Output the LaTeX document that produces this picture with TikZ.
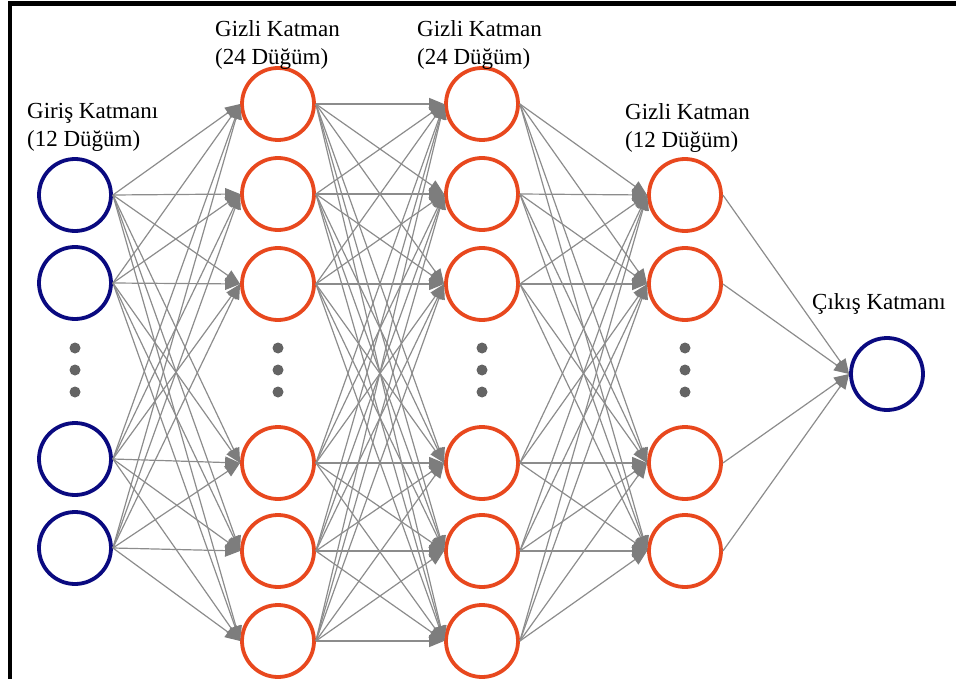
\documentclass[tikz,border=0pt]{standalone}
\usepackage{fontspec}
\setmainfont{Liberation Serif}
\usetikzlibrary{arrows.meta}
\definecolor{navyc}{RGB}{10,10,128}
\definecolor{orangec}{RGB}{232,72,30}
\definecolor{edgec}{RGB}{140,140,140}
\definecolor{tipc}{RGB}{125,125,125}
\definecolor{dotc}{RGB}{100,100,100}
\tikzset{
  inneuron/.style={circle, draw=navyc, line width=3.8pt, minimum size=72pt, inner sep=0pt},
  hidneuron/.style={circle, draw=orangec, line width=3.8pt, minimum size=72pt, inner sep=0pt},
  conn/.style={draw=edgec, line width=1.2pt, -{Triangle[length=15pt,width=12pt,fill=tipc,color=tipc]}},
  layerlabel/.style={anchor=north west, inner sep=0pt, align=left, font=\fontsize{23}{28}\selectfont},
  vdot/.style={circle, fill=dotc, inner sep=0pt, minimum size=11pt},
}
\begin{document}
\begin{tikzpicture}[x=1pt,y=-1pt]
\useasboundingbox (0,0) rectangle (956,679);
% frame (top and left edges)
\draw[line width=4.5pt, black, line cap=rect] (10,679) -- (10,3.5) -- (956,3.5);

% input layer
\foreach \i/\y in {1/195,2/283,3/459,4/548}
  \node[inneuron] (i\i) at (75,\y) {};
% hidden layer 1
\foreach \i/\y in {1/104,2/194,3/284,4/463,5/551,6/641}
  \node[hidneuron] (a\i) at (278,\y) {};
% hidden layer 2
\foreach \i/\y in {1/104,2/194,3/284,4/463,5/551,6/641}
  \node[hidneuron] (b\i) at (482,\y) {};
% hidden layer 3
\foreach \i/\y in {1/195,2/284,3/463,4/551}
  \node[hidneuron] (c\i) at (685,\y) {};
% output
\node[inneuron] (o) at (887,374) {};

% vertical dots
\foreach \x/\n in {75/p,278/q,482/r,685/s}{
  \node[vdot] (\n1) at (\x,348) {};
  \node[vdot] (\n2) at (\x,370) {};
  \node[vdot] (\n3) at (\x,392) {};
}

% connections
\foreach \s in {1,...,4}
  \foreach \t in {1,...,6}
    \draw[conn] (i\s.east) -- (a\t.west);
\foreach \s in {1,...,6}
  \foreach \t in {1,...,6}
    \draw[conn] (a\s.east) -- (b\t.west);
\foreach \s in {1,...,6}
  \foreach \t in {1,...,4}
    \draw[conn] (b\s.east) -- (c\t.west);
\foreach \s in {1,...,4}
  \draw[conn] (c\s.east) -- (o.west);

% labels
\node[layerlabel] (l1) at (27,103) {Giriş Katmanı\\(12 Düğüm)};
\node[layerlabel] (l2) at (215,20) {Gizli Katman\\(24 Düğüm)};
\node[layerlabel] (l3) at (417,20) {Gizli Katman\\(24 Düğüm)};
\node[layerlabel] (l4) at (625,103) {Gizli Katman\\(12 Düğüm)};
\node[layerlabel] (l5) at (812,293) {Çıkış Katmanı};
\end{tikzpicture}
\end{document}
